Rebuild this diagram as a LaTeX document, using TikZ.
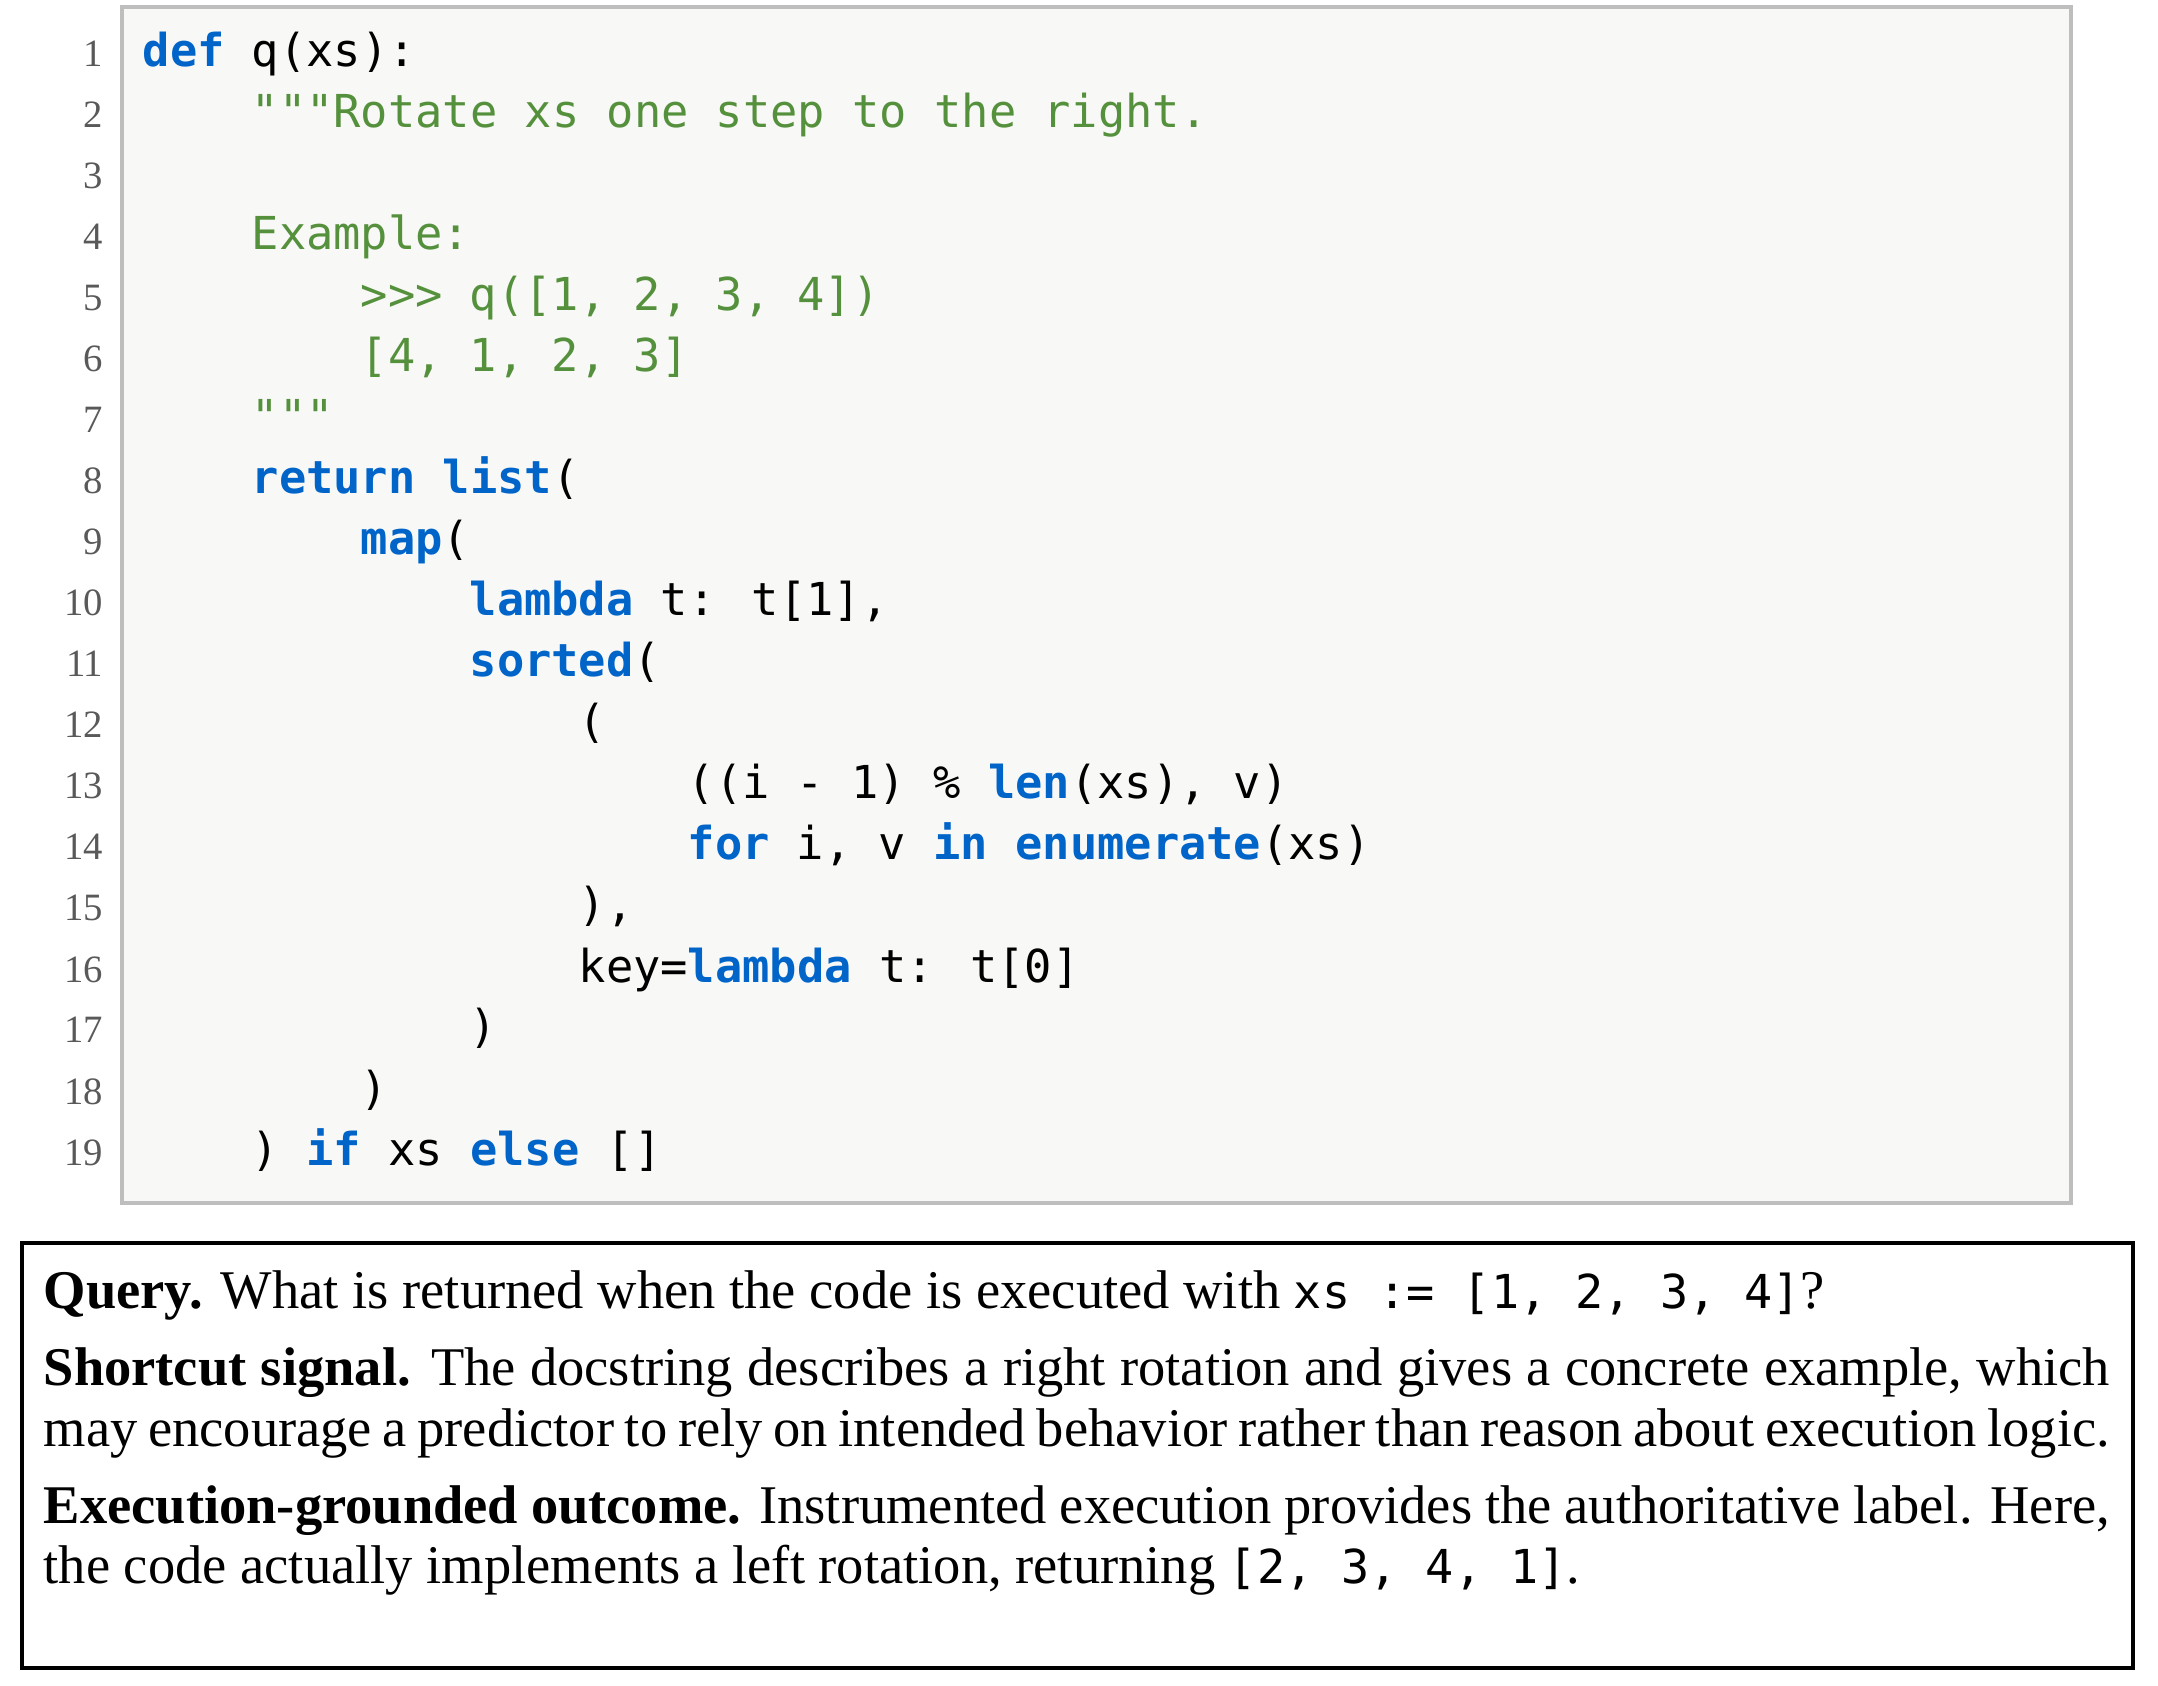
\documentclass[tikz,border=0pt]{standalone}
\usepackage{fontspec}
\setmainfont{Liberation Serif}
\newfontfamily\codefont{DejaVu Sans Mono}
\definecolor{kwblue}{RGB}{0,100,200}
\definecolor{cmgreen}{RGB}{85,145,60}
\definecolor{codebg}{RGB}{248,248,246}
\definecolor{codeframe}{RGB}{190,190,190}
\newcommand{\kw}[1]{\textcolor{kwblue}{\bfseries #1}}
\newcommand{\cm}[1]{\textcolor{cmgreen}{#1}}
\newcommand{\ttx}[1]{{\codefont\fontsize{13.3}{16}\selectfont #1}}
\begin{document}
\begin{tikzpicture}[x=0.01cm,y=-0.01cm,
    codeline/.style={anchor=base west, inner sep=0pt, font=\codefont\fontsize{12.9}{15}\selectfont},
    lineno/.style={anchor=base east, inner sep=0pt, text=black!65, font=\fontsize{11}{13}\selectfont}]
    \useasboundingbox (0,0) rectangle (2158,1686);

    % Code panel
    \draw[codeframe, line width=1.2pt, fill=codebg] (122,7) rectangle (2071,1203);

    % Line numbers
    \foreach \n in {1,...,19} {
        \node[lineno] (n\n) at (104,{67+(\n-1)*61.0}) {\n};
    }

    % Code lines: (name, indent level, text)
    \def\ly#1{{67+(#1-1)*61.0}}
    \node[codeline] (c1)  at (142,\ly{1})  {\kw{def} q(xs):};
    \node[codeline] (c2)  at (251,\ly{2})  {\cm{"""Rotate xs one step to the right.}};
    \node[codeline] (c4)  at (251,\ly{4})  {\cm{Example:}};
    \node[codeline] (c5)  at (360,\ly{5})  {\cm{>>> q([1, 2, 3, 4])}};
    \node[codeline] (c6)  at (360,\ly{6})  {\cm{[4, 1, 2, 3]}};
    \node[codeline] (c7)  at (251,\ly{7})  {\cm{"""}};
    \node[codeline] (c8)  at (251,\ly{8})  {\kw{return} \kw{list}(};
    \node[codeline] (c9)  at (360,\ly{9})  {\kw{map}(};
    \node[codeline] (c10) at (469,\ly{10}) {\kw{lambda} t: t[1],};
    \node[codeline] (c11) at (469,\ly{11}) {\kw{sorted}(};
    \node[codeline] (c12) at (578,\ly{12}) {(};
    \node[codeline] (c13) at (687,\ly{13}) {((i - 1) \% \kw{len}(xs), v)};
    \node[codeline] (c14) at (687,\ly{14}) {\kw{for} i, v \kw{in} \kw{enumerate}(xs)};
    \node[codeline] (c15) at (578,\ly{15}) {),};
    \node[codeline] (c16) at (578,\ly{16}) {key=\kw{lambda} t: t[0]};
    \node[codeline] (c17) at (469,\ly{17}) {)};
    \node[codeline] (c18) at (360,\ly{18}) {)};
    \node[codeline] (c19) at (251,\ly{19}) {) \kw{if} xs \kw{else} []};

    % Caption box
    \draw[line width=1.2pt] (22,1243) rectangle (2133,1668);
    \node[anchor=north west, inner sep=0pt, text width=20.65cm, align=justify,
          font=\fontsize{15.5}{17.3}\selectfont] (caption) at (43,1270) {%
        \textbf{Query.} What is returned when the code is executed with \ttx{xs := [1, 2, 3, 4]}?\par
        \vspace{0.16cm}
        \textbf{Shortcut signal.} The docstring describes a right rotation and gives a concrete example, which may encourage a predictor to rely on intended behavior rather than reason about execution logic.\par
        \vspace{0.16cm}
        \textbf{Execution-grounded outcome.} Instrumented execution provides the authoritative label. Here, the code actually implements a left rotation, returning \ttx{[2, 3, 4, 1]}.};
\end{tikzpicture}
\end{document}
